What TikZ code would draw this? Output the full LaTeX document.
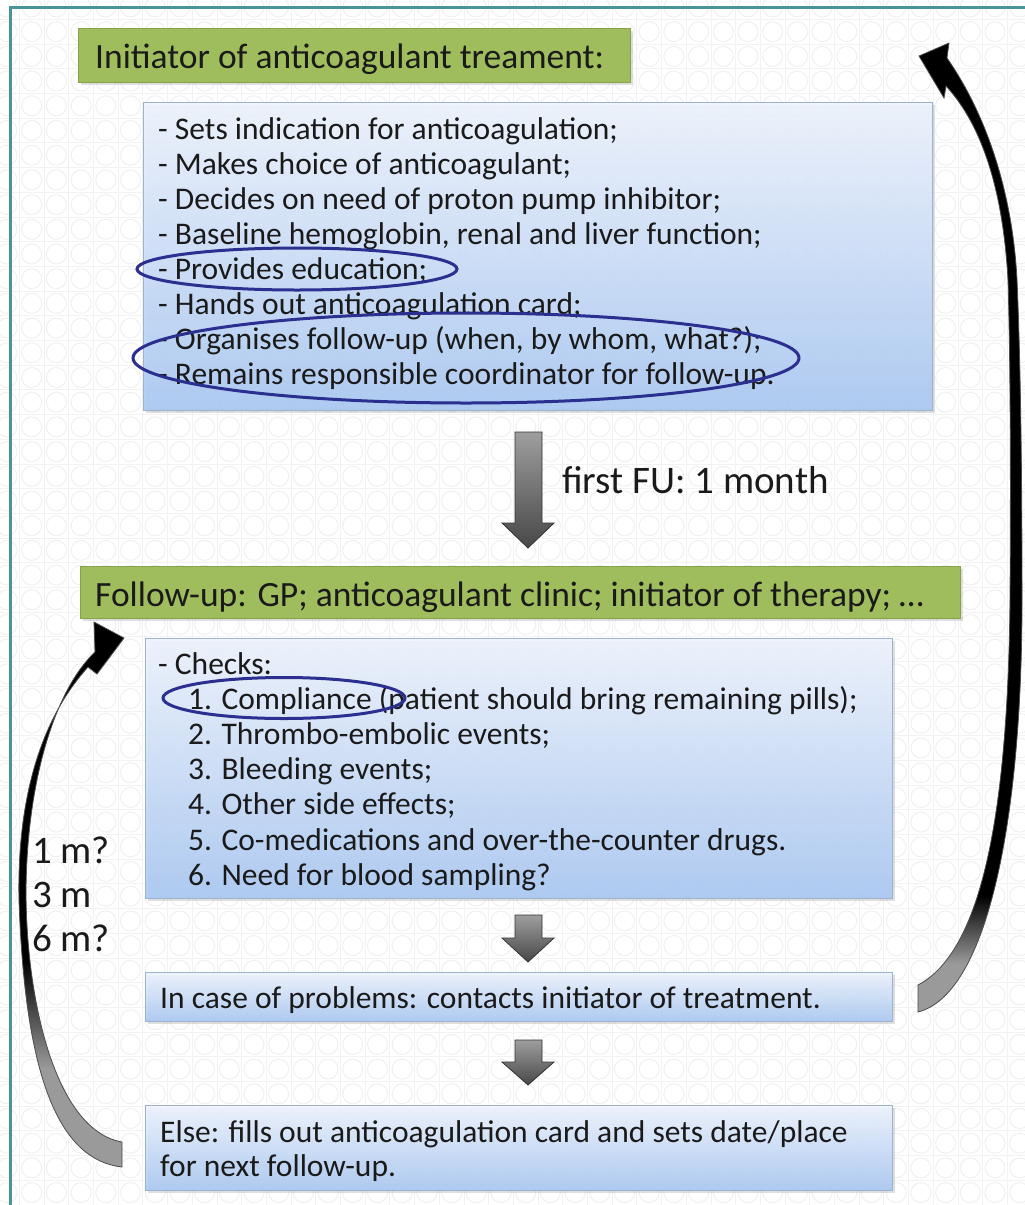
\documentclass[tikz,border=0pt]{standalone}
\usepackage{fontspec}
\setmainfont{Carlito}
\usetikzlibrary{shapes.geometric,shadows}
\definecolor{greenfill}{HTML}{A0BD5E}
\definecolor{greenedge}{HTML}{86A24A}
\definecolor{boxtop}{HTML}{EEF4FE}
\definecolor{boxbot}{HTML}{A9C8F3}
\definecolor{blueedge}{HTML}{9CB2CE}
\definecolor{ringcol}{HTML}{2B2F8F}
\definecolor{framecol}{HTML}{4A9399}
\definecolor{textcol}{HTML}{1A1A1A}
\definecolor{arrgray}{HTML}{9A9A9A}
\definecolor{bgcirc}{HTML}{F0F0F0}
\definecolor{bgline}{HTML}{F2F2F2}
\pgfdeclareverticalshading{larrowshade}{100bp}{color(0bp)=(arrgray); color(34bp)=(arrgray); color(44bp)=(black); color(100bp)=(black)}
\pgfdeclareverticalshading{rarrowshade}{100bp}{color(0bp)=(arrgray); color(27.5bp)=(arrgray); color(31bp)=(black); color(100bp)=(black)}
\tikzset{
  greenbox/.style={draw=greenedge, fill=greenfill, line width=1pt, inner sep=0pt, anchor=north west,
    drop shadow={opacity=0.25, shadow xshift=2pt, shadow yshift=-2pt}},
  bluebox/.style={draw=blueedge, top color=boxtop, bottom color=boxbot, line width=1pt, inner sep=0pt, anchor=north west,
    fill opacity=0.9, drop shadow={opacity=0.25, shadow xshift=2pt, shadow yshift=-2pt}},
  txt/.style={anchor=base west, inner sep=0pt, text=textcol, font=\fontsize{31.5}{35}\selectfont},
  ttl/.style={txt, font=\fontsize{35.5}{40}\selectfont},
  bigtxt/.style={txt, font=\fontsize{39}{44}\selectfont},
  ring/.style={draw=ringcol, line width=3pt, ellipse, inner sep=0pt},
  downarrow/.style={top color=black!38, bottom color=black!72, draw=black!80, line width=0.8pt},
  curvearrow/.style={draw=black!70, line width=0.8pt}
}
\begin{document}
\begin{tikzpicture}[x=1pt,y=-1pt]
\useasboundingbox (0,0) rectangle (1025,1205);
\fill[white] (0,0) rectangle (1025,1205);
% background pattern
\foreach \i in {0,...,42} {
  \draw[bgline, line width=0.8pt] ({-5.35+24.7*\i},0) -- ({-5.35+24.7*\i},1205);
}
\foreach \j in {0,...,49} {
  \draw[bgline, line width=0.8pt] (0,{-5.35+24.7*\j}) -- (1025,{-5.35+24.7*\j});
}
\foreach \i in {0,...,41} {
  \foreach \j in {0,...,49} {
    \draw[bgcirc, line width=1pt] ({7+24.7*\i},{7+24.7*\j}) circle (10);
  }
}
% frame
\draw[framecol, line width=3pt] (10,1210) -- (10,7) -- (1030,7);

% boxes
\node[greenbox, minimum width=552pt, minimum height=54pt] (g1) at (78,28) {};
\node[bluebox, minimum width=789pt, minimum height=308pt] (b1) at (143,102) {};
\node[greenbox, minimum width=880pt, minimum height=52pt] (g2) at (80,566) {};
\node[bluebox, minimum width=747pt, minimum height=260pt] (b2) at (145,638) {};
\node[bluebox, minimum width=747pt, minimum height=49pt] (b3) at (145,972) {};
\node[bluebox, minimum width=747pt, minimum height=85pt] (b4) at (145,1105) {};

% texts
\node[ttl] (tg1) at (95,68) {Initiator of anticoagulant treament:};
\foreach \s [count=\k from 0] in {{- Sets indication for anticoagulation;},
  {- Makes choice of anticoagulant;},
  {- Decides on need of proton pump inhibitor;},
  {- Baseline hemoglobin, renal and liver function;},
  {- Provides education;},
  {- Hands out anticoagulation card;},
  {- Organises follow-up (when, by whom, what?);},
  {- Remains responsible coordinator for follow-up.}} {
  \node[txt] (a\k) at (158,139+35.1*\k) {\s};
}
\node[bigtxt] (fu) at (562,493) {first FU: 1 month};
\node[ttl] (tg2) at (95,606) {Follow-up: GP; anticoagulant clinic; initiator of therapy; …};
\node[txt] (c0) at (158,674) {- Checks:};
\foreach \s [count=\k] in {{1. Compliance (patient should bring remaining pills);},
  {2. Thrombo-embolic events;},
  {3. Bleeding events;},
  {4. Other side effects;},
  {5. Co-medications and over-the-counter drugs.},
  {6. Need for blood sampling?}} {
  \node[txt] (c\k) at (188,674+35.2*\k) {\s};
}
\node[txt] (p1) at (160,1008) {In case of problems: contacts initiator of treatment.};
\node[txt] (e1) at (160,1142) {Else: fills out anticoagulation card and sets date/place};
\node[txt] (e2) at (160,1176) {for next follow-up.};
\node[bigtxt] (m1) at (32,863) {1 m?};
\node[bigtxt] (m2) at (32,907) {3 m};
\node[bigtxt] (m3) at (32,951) {6 m?};

% ellipses
\node[ring, minimum width=320pt, minimum height=42pt] (r1) at (297,269) {};
\node[ring, minimum width=666pt, minimum height=90pt] (r2) at (466,358) {};
\node[ring, minimum width=242pt, minimum height=41pt] (r3) at (284,698) {};

% down arrows
\path[downarrow] (515,432) -- (542,432) -- (542,523) -- (554,523) -- (528,548) -- (502,523) -- (515,523) -- cycle;
\path[downarrow] (515,915) -- (542,915) -- (542,938) -- (554,938) -- (528,962) -- (502,938) -- (515,938) -- cycle;
\path[downarrow] (515,1040) -- (542,1040) -- (542,1062) -- (554,1062) -- (528,1085) -- (502,1062) -- (515,1062) -- cycle;

% right curved arrow (back to initiator)
\path[curvearrow, shading=rarrowshade, shade]
  (918,1012) .. controls (985,995) and (1022,830) .. (1022,600)
  .. controls (1022,450) and (1020,350) .. (1017,280)
  .. controls (1013,200) and (990,120) .. (947,58)
  -- (949,43) -- (919,56) -- (944,98) -- (946,86)
  .. controls (982,125) and (1003,190) .. (1008,280)
  .. controls (1010,350) and (1011,450) .. (1010,600)
  .. controls (1008,800) and (985,950) .. (918,985) -- cycle;

% left curved arrow (next follow-up)
\path[curvearrow, shading=larrowshade, shade]
  (122,1167) .. controls (60,1160) and (25,1080) .. (19,900)
  .. controls (17,800) and (40,720) .. (88,667)
  -- (97,674) -- (124,638) -- (94,622) -- (95,652)
  .. controls (55,690) and (27,780) .. (26,890)
  .. controls (26,1000) and (55,1130) .. (122,1142) -- cycle;
\end{tikzpicture}
\end{document}
